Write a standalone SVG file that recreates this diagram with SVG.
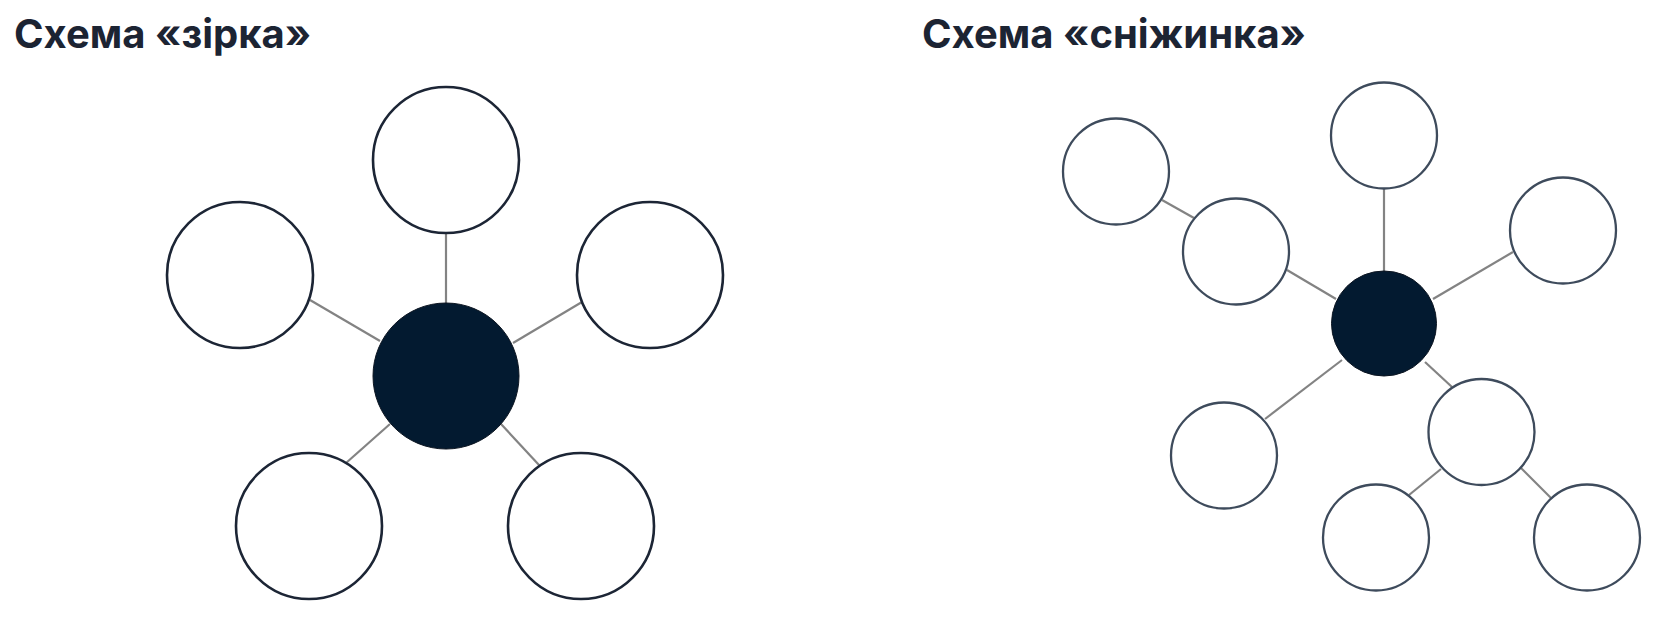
<svg xmlns="http://www.w3.org/2000/svg" width="1664" height="624" viewBox="0 0 1664 624">
<style>
.title{font-family:Inter,"Noto Sans","Liberation Sans",sans-serif;font-weight:700;font-size:40px;fill:#1c2433}
.star{fill:#ffffff;stroke:#1c2535;stroke-width:2.6}
.snow{fill:#ffffff;stroke:#3e4b5c;stroke-width:2.3}
.hub{fill:#031a30;stroke:#0b1420;stroke-width:1}
.conn line{stroke:#838383;stroke-width:2.2;fill:none}
</style>
<rect width="1664" height="624" fill="#ffffff"/>
<text class="title" x="14" y="48">Схема «зірка»</text>
<text class="title" x="922" y="48">Схема «сніжинка»</text>

<g id="star-connectors" class="conn">
<line x1="446" y1="233" x2="446" y2="303"/>
<line x1="310" y1="300" x2="380" y2="341"/>
<line x1="513" y1="343" x2="582" y2="302"/>
<line x1="390" y1="424" x2="346" y2="463"/>
<line x1="501" y1="424" x2="539" y2="465"/>
</g>
<g id="star-center"><circle class="hub" cx="446" cy="376" r="73"/></g>
<g id="star-top"><circle class="star" cx="446" cy="160" r="73"/></g>
<g id="star-left"><circle class="star" cx="240" cy="275" r="73"/></g>
<g id="star-right"><circle class="star" cx="650" cy="275" r="73"/></g>
<g id="star-bottom-left"><circle class="star" cx="309" cy="526" r="73"/></g>
<g id="star-bottom-right"><circle class="star" cx="581" cy="526" r="73"/></g>

<g id="snow-connectors" class="conn">
<line x1="1384" y1="188" x2="1384" y2="271"/>
<line x1="1433" y1="299" x2="1513" y2="252"/>
<line x1="1287" y1="270" x2="1336" y2="299"/>
<line x1="1162" y1="200" x2="1194" y2="218"/>
<line x1="1342" y1="360" x2="1265" y2="419"/>
<line x1="1425" y1="362" x2="1452" y2="387"/>
<line x1="1441" y1="469" x2="1409" y2="495"/>
<line x1="1521" y1="468" x2="1551" y2="498"/>
</g>
<g id="snow-center"><circle class="hub" cx="1384" cy="323.5" r="52.5"/></g>
<g id="snow-top"><circle class="snow" cx="1384" cy="135.5" r="53"/></g>
<g id="snow-right"><circle class="snow" cx="1563" cy="230.5" r="53"/></g>
<g id="snow-left-inner"><circle class="snow" cx="1236" cy="251.5" r="53"/></g>
<g id="snow-left-outer"><circle class="snow" cx="1116" cy="171.5" r="53"/></g>
<g id="snow-bottom-left"><circle class="snow" cx="1224" cy="455.5" r="53"/></g>
<g id="snow-bottom-right"><circle class="snow" cx="1481.5" cy="432" r="53"/></g>
<g id="snow-leaf-left"><circle class="snow" cx="1376" cy="537.5" r="53"/></g>
<g id="snow-leaf-right"><circle class="snow" cx="1587" cy="537.5" r="53"/></g>
</svg>
